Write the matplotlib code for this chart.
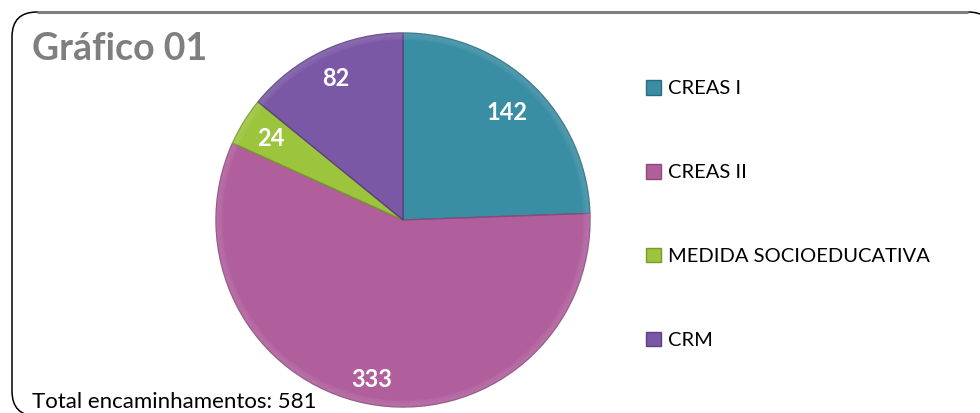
import matplotlib
matplotlib.use("Agg")
import matplotlib.pyplot as plt
from matplotlib.patches import FancyBboxPatch
import numpy as np

categories = ["CREAS I", "CREAS II", "MEDIDA SOCIOEDUCATIVA", "CRM"]
values = [142, 333, 24, 82]
colors = ["#3a8ea4", "#b05e9c", "#9cc43c", "#7b58a6"]
edge_colors = ["#2a6d80", "#8c4a7c", "#7a9a2a", "#5c4080"]
title = "Gráfico 01"
footer = "Total encaminhamentos: %d" % sum(values)

W, H = 980, 413
fig = plt.figure(figsize=(W / 100, H / 100), dpi=100)
ax = fig.add_axes([0, 0, 1, 1])

font = "Lato"

# rounded frame around the chart area
frame = FancyBboxPatch((12, -3), 981, 404, boxstyle="round,pad=0,rounding_size=25",
                       facecolor="white", edgecolor="black", linewidth=1.1, zorder=0)
ax.add_patch(frame)
ax.plot([37, 968], [401, 401], color="#7f7f7f", linewidth=2.2, zorder=1,
        solid_capstyle="butt")

# pie
cx, cy, r = 403, 193, 187
wedges, _ = ax.pie(values, colors=colors, startangle=90, counterclock=False,
                   center=(cx, cy), radius=r, frame=True,
                   wedgeprops=dict(linewidth=1.0, zorder=3))
for w, ec in zip(wedges, edge_colors):
    w.set_edgecolor(ec)

# soft bevel along the rim
for k in range(6):
    ring = plt.Circle((cx, cy), r - k * 1.2, fill=False, edgecolor="white",
                      linewidth=1.2, alpha=0.10 - k * 0.012, zorder=4)
    ax.add_patch(ring)

ax.set_xlim(0, W)
ax.set_ylim(0, H)
ax.set_aspect("equal")
ax.axis("off")

# value labels inside the slices
label_dist = [0.80, 0.87, 0.83, 0.84]
for w, v, d in zip(wedges, values, label_dist):
    ang = np.deg2rad((w.theta1 + w.theta2) / 2)
    ax.text(cx + d * r * np.cos(ang), cy + d * r * np.sin(ang), str(v),
            ha="center", va="center", color="white", fontsize=17,
            fontweight="bold", family=font, zorder=6)

# title and footer
ax.text(32, 353, title, ha="left", va="baseline", color="#7f7f7f", fontsize=27,
        fontweight="bold", family=font, zorder=6)
ax.text(32, 5, footer, ha="left", va="baseline", color="black", fontsize=16,
        family=font, zorder=6)

# legend
leg = ax.legend(wedges, categories, loc="upper left", bbox_to_anchor=(646 / W, 1 - 80 / H),
                frameon=False, handlelength=0.75, handleheight=0.75, handletextpad=0.35,
                labelspacing=3.3, borderpad=0, borderaxespad=0,
                prop=dict(family=font, size=14.5))

fig.savefig("out.png", dpi=100)
